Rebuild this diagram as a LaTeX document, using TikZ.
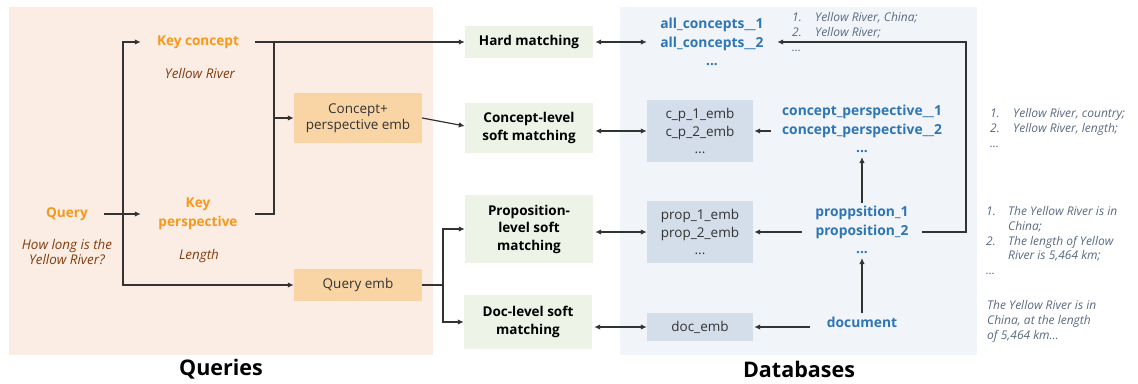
\documentclass[tikz,border=0pt]{standalone}
\usepackage{fontspec}
\setmainfont{Open Sans}
\usetikzlibrary{arrows.meta,calc}
\definecolor{qbg}{HTML}{FBEDE4}
\definecolor{dbbg}{HTML}{F1F5FA}
\definecolor{embfill}{HTML}{F9D5A5}
\definecolor{matchfill}{HTML}{EDF3E6}
\definecolor{dbfill}{HTML}{D4DEEB}
\definecolor{qorange}{HTML}{F5981C}
\definecolor{qbrown}{HTML}{843C0C}
\definecolor{dbblue}{HTML}{2E75B6}
\definecolor{notegray}{HTML}{5A6A80}
\definecolor{linec}{HTML}{333333}
\begin{document}
\begin{tikzpicture}[x=1pt,y=-1pt,
  ln/.style={draw=linec,line width=1.2pt},
  arr/.style={ln,-{Latex[length=6pt,width=5.5pt]}},
  darr/.style={ln,{Latex[length=6pt,width=5.5pt]}-{Latex[length=6pt,width=5.5pt]}},
  qlabel/.style={inner sep=0pt,text=qorange,font=\fontsize{13.6}{19}\selectfont\bfseries,align=center},
  qital/.style={inner sep=0pt,text=qbrown,font=\fontsize{13.4}{15.5}\selectfont\itshape,align=center},
  embbox/.style={fill=embfill,minimum width=128pt,inner sep=0pt,text=black!80,font=\fontsize{13.5}{16.5}\selectfont,align=center},
  matchbox/.style={fill=matchfill,minimum width=128pt,inner sep=0pt,text=black,font=\fontsize{13.5}{17.5}\selectfont\bfseries,align=center},
  dbbox/.style={fill=dbfill,minimum width=106pt,inner sep=0pt,text=black!80,font=\fontsize{13.5}{17.5}\selectfont,align=center},
  dbtext/.style={inner sep=0pt,text=dbblue,font=\fontsize{13.8}{18.5}\selectfont\bfseries,align=center},
  note/.style={inner sep=0pt,text=notegray,font=\fontsize{12}{14.8}\selectfont\itshape,align=left,anchor=north west},
  title/.style={inner sep=0pt,text=black,font=\fontsize{21.5}{24}\selectfont\bfseries}
]
\useasboundingbox (0,0) rectangle (1138,383);
% backgrounds
\fill[qbg] (9,7) rectangle (433,355);
\fill[dbbg] (620,7) rectangle (977,355);
\node[title] (tq) at (221,369) {Queries};
\node[title] (td) at (799,369) {Databases};

% query side
\node[qlabel,minimum width=74pt] (query) at (67,214) {Query};
\node[qital] (queryex) at (67,252) {How long is the\\Yellow River?};
\node[qlabel,minimum width=114pt] (kc) at (198,42) {Key concept};
\node[qital] (kcex) at (200,73) {Yellow River};
\node[qlabel,minimum width=114pt] (kp) at (198,214) {Key\\perspective};
\node[qital] (kpex) at (199,256) {Length};
\node[embbox,minimum height=50pt] (cpe) at (358,118) {Concept+\\perspective emb};
\node[embbox,minimum height=32pt] (qe) at (358,285) {Query emb};

% matching
\node[matchbox,minimum height=32pt] (hm) at (529,42) {Hard matching};
\node[matchbox,minimum height=50pt] (cm) at (529,128) {Concept-level\\soft matching};
\node[matchbox,minimum height=68pt] (pm) at (529,229) {Proposition-\\level soft\\matching};
\node[matchbox,minimum height=54pt] (dm) at (528,322) {Doc-level soft\\matching};

% databases
\node[dbtext,minimum width=130pt] (ac) at (712,42) {all\_concepts\_\_1\\all\_concepts\_\_2\\...};
\node[dbbox,minimum height=62pt] (cpb) at (700,131) {c\_p\_1\_emb\\c\_p\_2\_emb\\...};
\node[dbbox,minimum height=62pt] (pb) at (700,232) {prop\_1\_emb\\prop\_2\_emb\\...};
\node[dbbox,minimum height=28pt] (db) at (700,327) {doc\_emb};
\node[dbtext,minimum width=182pt] (cpt) at (862,129) {concept\_perspective\_\_1\\concept\_perspective\_\_2\\...};
\node[dbtext,minimum width=120pt] (pt) at (862,230) {proppsition\_1\\proposition\_2\\...};
\node[dbtext,minimum width=104pt] (doc) at (862,322) {document};

% notes
\node[note] (n1) at (792,11) {\begin{tabular}{@{}p{23pt}@{}l@{}}1. & Yellow River, China;\\2. & Yellow River;\\\multicolumn{2}{@{}l@{}}{...}\end{tabular}};
\node[note] (n2) at (990,107) {\begin{tabular}{@{}p{23pt}@{}l@{}}1. & Yellow River, country;\\2. & Yellow River, length;\\\multicolumn{2}{@{}l@{}}{...}\end{tabular}};
\node[note] (n3) at (986,205) {\begin{tabular}{@{}p{22pt}@{}l@{}}1. & The Yellow River is in\\ & China;\\2. & The length of Yellow\\ & River is 5,464 km;\\\multicolumn{2}{@{}l@{}}{...}\end{tabular}};
\node[note] (n4) at (987,299) {\begin{tabular}{@{}l@{}}The Yellow River is in\\China, at the length\\of 5,464 km...\end{tabular}};

% connectors query side
\coordinate (jq) at (123,214);
\coordinate (jc) at (274,116);
\coordinate (jd) at (443,285);
\draw[arr] (query.east) -- (kp.west);
\draw[arr] (jq) |- (kc.west);
\draw[arr] (jq) |- (qe.west);
\draw[arr] (kc.east) -- (hm.west);
\draw[ln] (kc.east -| jc) -- (kp.east -| jc) -- (kp.east);
\draw[arr] (jc |- cpe.west) -- (cpe.west);
\draw[arr] (cpe.east) -- ([yshift=2pt]cm.west);
\draw[ln] (qe.east) -- (jd);
\draw[arr] (jd) |- (pm.west);
\draw[arr] (jd) |- (dm.west);

% double arrows
\draw[darr,shorten <=2pt] (hm.east) -- (ac.west);
\draw[darr,shorten <=2pt] (cm.east |- cpb.west) -- (cpb.west);
\draw[darr,shorten <=2pt] (pm.east |- pb.west) -- (pb.west);
\draw[darr,shorten <=2pt] (dm.east |- db.west) -- (db.west);

% database side
\draw[arr,shorten >=1pt] (cpt.west |- cpb.east) -- (cpb.east);
\draw[arr,shorten >=1pt] (pt.west |- pb.east) -- (pb.east);
\draw[arr,shorten >=1pt] (doc.west |- db.east) -- (db.east);
\draw[arr,shorten <=3pt,shorten >=4pt] (doc.north) -- (pt.south);
\draw[arr,shorten <=3pt,shorten >=4pt] (pt.north) -- (cpt.south);
\coordinate (fb) at (966,0);
\draw[arr] (pt.east |- pb.east) -- (pb.east -| fb) |- (ac.east);
\end{tikzpicture}
\end{document}
